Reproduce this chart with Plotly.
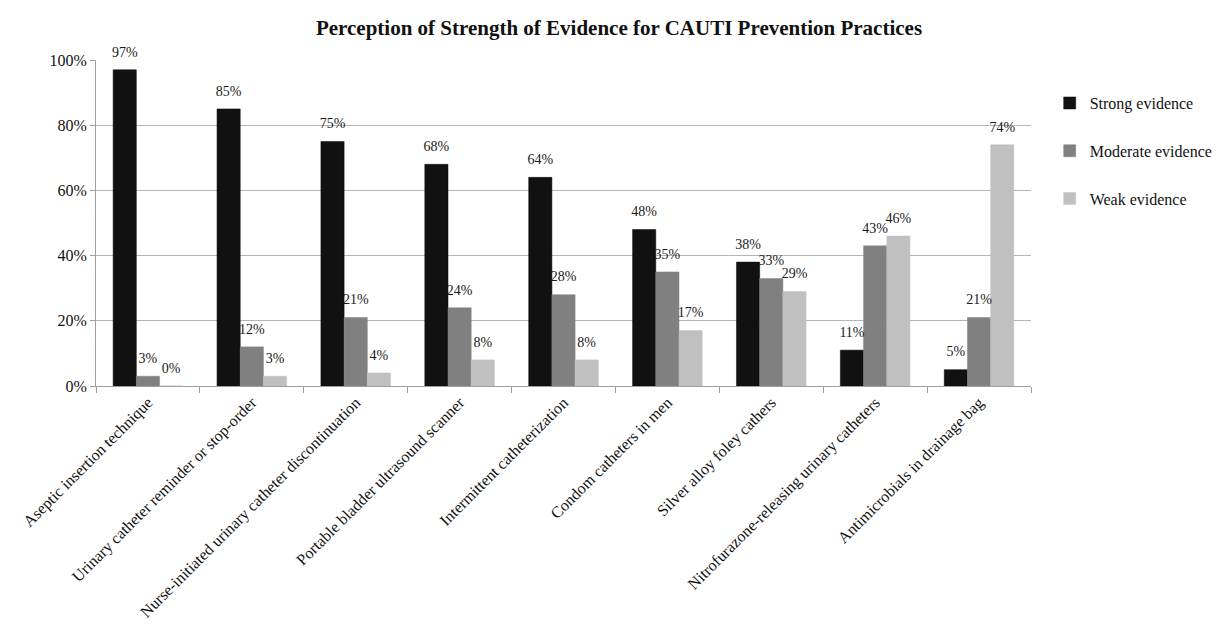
import plotly.graph_objects as go

categories = [
    "Aseptic insertion technique",
    "Urinary catheter reminder or stop-order",
    "Nurse-initiated urinary catheter discontinuation",
    "Portable bladder ultrasound scanner",
    "Intermittent catheterization",
    "Condom catheters in men",
    "Silver alloy foley cathers",
    "Nitrofurazone-releasing urinary catheters",
    "Antimicrobials in drainage bag",
]
strong = [97, 85, 75, 68, 64, 48, 38, 11, 5]
moderate = [3, 12, 21, 24, 28, 35, 33, 43, 21]
weak = [0, 3, 4, 8, 8, 17, 29, 46, 74]

series = [
    ("Strong evidence", strong, "#111111"),
    ("Moderate evidence", moderate, "#808080"),
    ("Weak evidence", weak, "#c0c0c0"),
]

font_family = "Liberation Serif, Times New Roman, serif"

fig = go.Figure()
for i, (name, vals, color) in enumerate(series):
    fig.add_trace(go.Bar(
        name=name,
        x=categories,
        y=[v / 100 for v in vals],
        marker=dict(color=color, line=dict(color="#0a0a0a" if i == 0 else color, width=0.5)),
        legendgroup=name,
        offsetgroup=str(i),
    ))
for i, (name, vals, color) in enumerate(series):
    fig.add_trace(go.Scatter(
        x=categories,
        y=[v / 100 for v in vals],
        mode="markers+text",
        text=[f"{v}%" for v in vals],
        textposition="top center",
        textfont=dict(size=14, color="#1a1a1a", family=font_family),
        marker=dict(size=14, color="rgba(0,0,0,0)", line=dict(width=0)),
        offsetgroup=str(i),
        showlegend=False,
        hoverinfo="skip",
        cliponaxis=False,
    ))

fig.update_layout(
    barmode="group",
    bargap=0.33,
    bargroupgap=0,
    scattermode="group",
    scattergap=0.33,
    width=1222,
    height=629,
    paper_bgcolor="white",
    plot_bgcolor="white",
    font=dict(family=font_family, color="#111111"),
    title=dict(
        text="<b>Perception of Strength of Evidence for CAUTI Prevention Practices</b>",
        x=0.5, xanchor="center", y=0.968, yanchor="middle",
        font=dict(size=21, family=font_family, color="#111111"),
    ),
    margin=dict(l=78, r=185, t=52, b=251),
    legend=dict(
        x=1.02, xanchor="left", y=0.92, yanchor="top",
        font=dict(size=16, family=font_family),
        tracegroupgap=24,
        traceorder="grouped",
        itemwidth=30,
    ),
)

fig.update_yaxes(
    range=[0, 1],
    tickformat=".0%",
    dtick=0.2,
    showgrid=True,
    gridcolor="#b5b5b5",
    gridwidth=1,
    showline=True,
    linecolor="#a0a0a0",
    ticks="outside",
    ticklen=5,
    tickcolor="#a0a0a0",
    tickfont=dict(size=16, family=font_family, color="#111111"),
    zeroline=False,
)
fig.update_xaxes(
    tickangle=-45,
    showline=True,
    linecolor="#a0a0a0",
    ticks="outside",
    tickson="boundaries",
    ticklen=6,
    tickcolor="#a0a0a0",
    tickfont=dict(size=16, family=font_family, color="#111111"),
)

fig.write_html("out.html")
